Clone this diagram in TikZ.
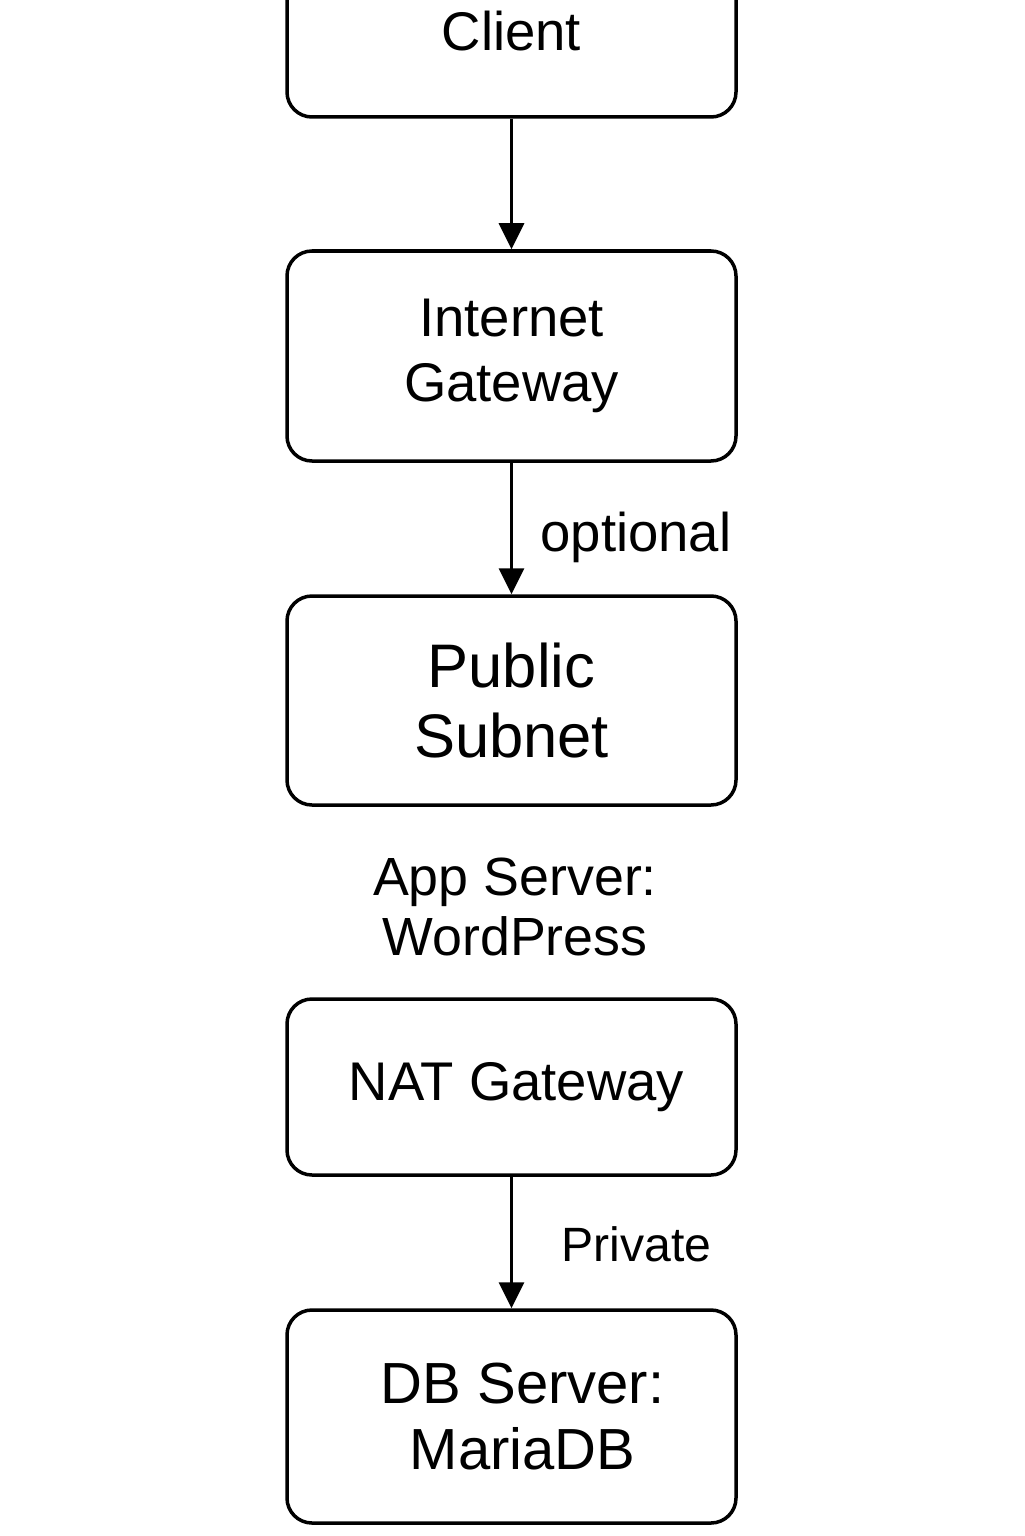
\documentclass[tikz,border=0pt]{standalone}
\usepackage{fontspec}
\setmainfont{Liberation Sans}
\usetikzlibrary{arrows.meta, positioning}
\tikzset{
    %Define standard arrow tip
    >={Triangle[length=0.26cm, width=0.25cm]},
}

\begin{document}
\begin{tikzpicture}[
    box/.style = {draw, rounded corners=0.25cm, line width=0.035cm,
                  minimum width=4.49cm, align=center,
                  font=\fontsize{15.5}{18.5}\selectfont},
    lbl/.style = {align=center, font=\fontsize{15.5}{18.5}\selectfont},
    link/.style = {->, line width=0.035cm},
  ]
  \useasboundingbox (0,0) rectangle (10.24,-15.36);
  \clip (0,0) rectangle (10.24,-15.36);

  \node[box, minimum height=1.72cm] (client) at (5.115,-0.31) {Client};
  \node[box, minimum height=2.10cm] (igw) at (5.115,-3.56) {Internet\\Gateway};
  \node[box, minimum height=2.09cm,
        font=\fontsize{17.5}{20}\selectfont] (public) at (5.115,-7.005) {Public\\Subnet};
  \node[lbl, font=\fontsize{15.3}{17.3}\selectfont] (app) at (5.15,-9.07) {App Server:\\WordPress};
  \node[box, minimum height=1.76cm] (nat) at (5.115,-10.87) {\hspace*{0.1cm}NAT Gateway};
  \node[box, minimum height=2.13cm,
        font=\fontsize{16.5}{19}\selectfont] (db) at (5.115,-14.165) {\hspace*{0.22cm}DB Server:\\\hspace*{0.22cm}MariaDB};

  \draw[link] (client) -- (igw);
  \draw[link] (igw) -- (public);
  \draw[link] (nat) -- (db);

  \node[lbl] (opt) at (6.36,-5.37) {optional};
  \node[lbl, font=\fontsize{13.7}{17}\selectfont] (priv) at (6.365,-12.44) {Private};
\end{tikzpicture}
\end{document}
